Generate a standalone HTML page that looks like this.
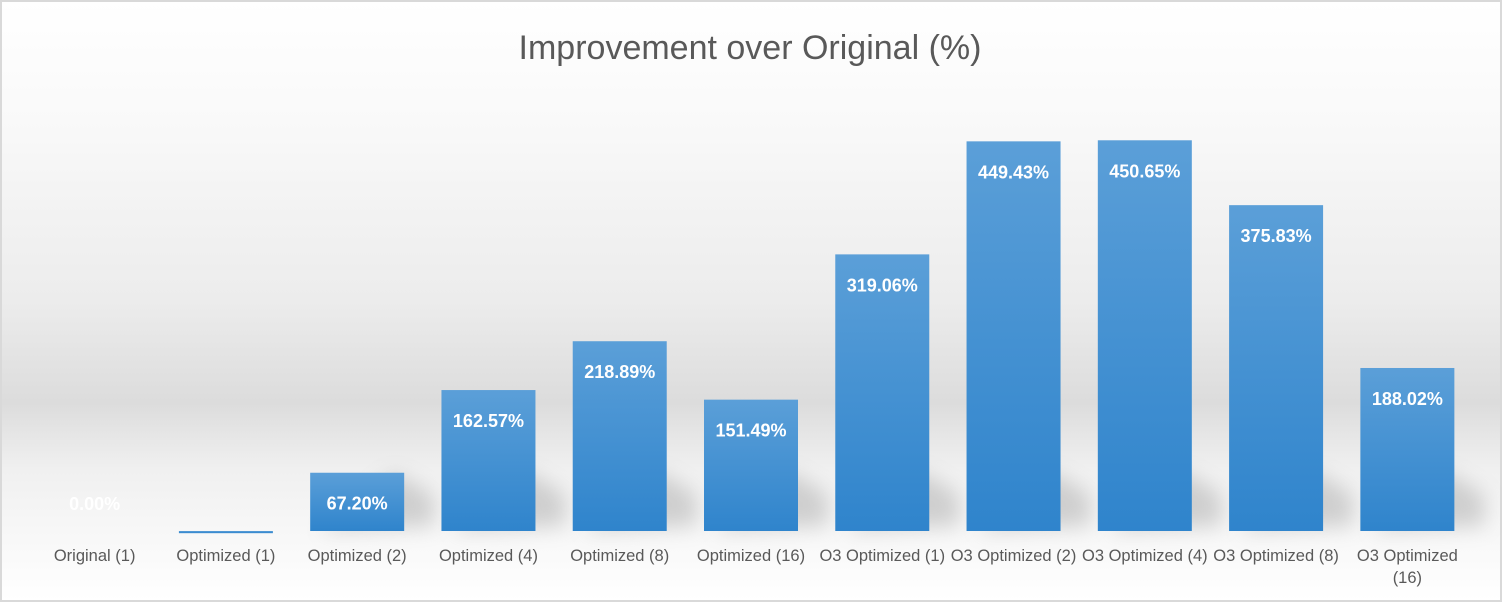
<!DOCTYPE html>
<html><head><meta charset="utf-8"><style>
html,body{margin:0;padding:0;background:#fff}
svg{display:block}
text{font-family:"Liberation Sans",sans-serif}
</style></head><body>
<svg id="chart" width="1502" height="602" viewBox="0 0 1502 602" xmlns="http://www.w3.org/2000/svg">
<defs>
<linearGradient id="bg" x1="0" y1="0" x2="0" y2="1">
<stop offset="0" stop-color="#ffffff"/>
<stop offset="0.2" stop-color="#f9f9f9"/>
<stop offset="0.5" stop-color="#ececec"/>
<stop offset="0.67" stop-color="#dcdcdc"/>
<stop offset="0.78" stop-color="#f0f0f0"/>
<stop offset="1" stop-color="#ffffff"/>
</linearGradient>
<linearGradient id="barg" x1="0" y1="0" x2="0" y2="1">
<stop offset="0" stop-color="#5b9fd8"/>
<stop offset="1" stop-color="#2f84cc"/>
</linearGradient>
<filter id="sh" x="-50%" y="-50%" width="200%" height="200%"><feGaussianBlur stdDeviation="10"/></filter>
</defs>
<rect x="1" y="1" width="1500" height="600" fill="url(#bg)" stroke="#d9d9d9" stroke-width="2"/>
<text x="750" y="59" text-anchor="middle" font-size="34" fill="#595959">Improvement over Original (%)</text>
<g id="shadows"></g>
<g id="bars"></g>
<g id="labels"></g>
</svg>
<script>
const categories = ["Original (1)","Optimized (1)","Optimized (2)","Optimized (4)","Optimized (8)","Optimized (16)","O3 Optimized (1)","O3 Optimized (2)","O3 Optimized (4)","O3 Optimized (8)","O3 Optimized\n(16)"];
const values = [0.00, -2.5, 67.20, 162.57, 218.89, 151.49, 319.06, 449.43, 450.65, 375.83, 188.02];
const valueLabels = ["0.00%", "", "67.20%", "162.57%", "218.89%", "151.49%", "319.06%", "449.43%", "450.65%", "375.83%", "188.02%"];

const NS = "http://www.w3.org/2000/svg";
const plotLeft = 29, plotWidth = 1444, baseY = 531, pxPer = 0.867, barW = 94;
const band = plotWidth / categories.length;
const xc = i => plotLeft + band * (i + 0.5);
const yv = v => baseY - v * pxPer;
const gB = document.getElementById('bars'), gL = document.getElementById('labels'), gS = document.getElementById('shadows');
function mk(tag, attrs){const e=document.createElementNS(NS,tag);for(const k in attrs)e.setAttribute(k,attrs[k]);return e;}
values.forEach((v,i)=>{
  const x = xc(i) - barW/2;
  const y0 = Math.min(yv(v), baseY), h = Math.abs(yv(v)-baseY);
  if (v > 5) {
    const sh = Math.min(h, 60);
    const s = mk('polygon',{points:`${x+10},${baseY} ${x+barW-10},${baseY-sh} ${x+barW+30},${baseY-sh*0.6} ${x+barW+30},${baseY-5}`,fill:'#8a8a8a',opacity:'0.35',filter:'url(#sh)'});
    
    
    gS.appendChild(s);
  }
  if (h > 0.5) {
    const r = mk('rect',{x:x,y:y0,width:barW,height:h,fill:'url(#barg)'});
    
    
    gB.appendChild(r);
  }
  if (valueLabels[i]) {
    const t = mk('text',{x:xc(i),y:(v>5? yv(v)+37 : baseY-21),'text-anchor':'middle','font-size':'18','font-weight':'bold',fill:'#ffffff'});
    t.textContent = valueLabels[i];
    
    
    gL.appendChild(t);
  }
  const lines = categories[i].split('\n');
  lines.forEach((ln,j)=>{
    const c = mk('text',{x:xc(i),y:561+j*22,'text-anchor':'middle','font-size':'16.5',fill:'#595959'});
    c.textContent = ln;
    
    
    gL.appendChild(c);
  });
});
</script>
</body></html>
